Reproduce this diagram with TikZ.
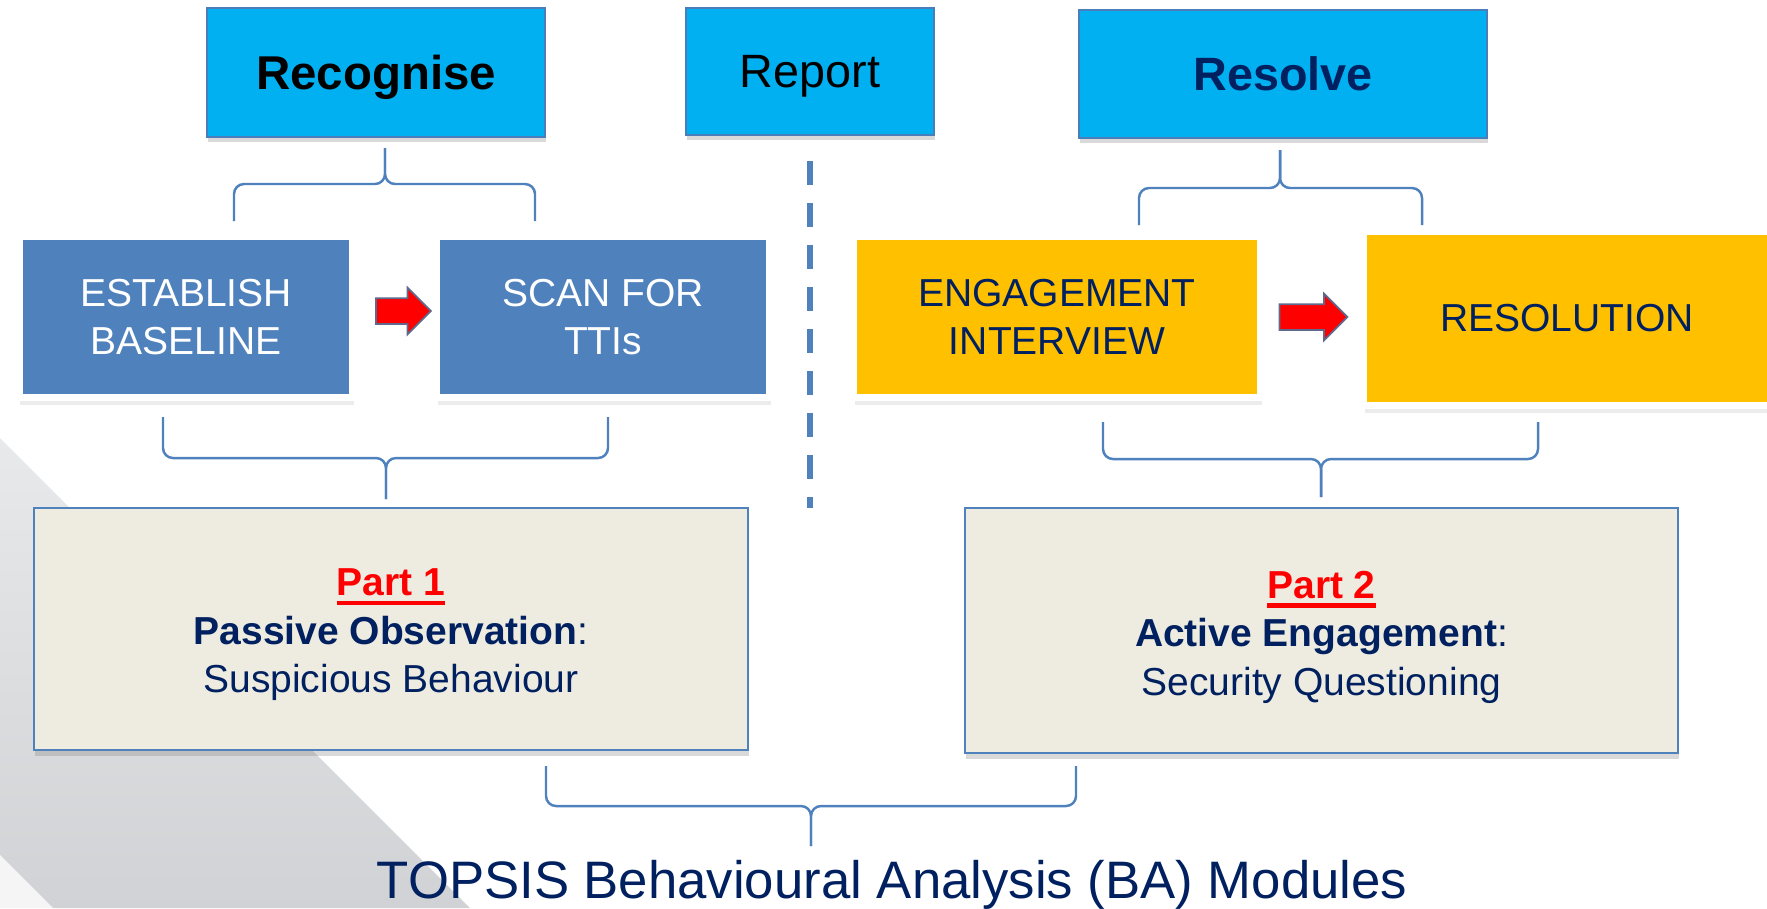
\documentclass[tikz,border=0pt]{standalone}
\usepackage{fontspec}
\setmainfont{Liberation Sans}
\usepackage{tikz}
\usetikzlibrary{shapes.arrows, shadows}

\definecolor{topcyan}{HTML}{00B0F0}
\definecolor{stepblue}{HTML}{4F81BD}
\definecolor{edgeblue}{HTML}{4A7EBB}
\definecolor{stepgold}{HTML}{FFC000}
\definecolor{navy}{HTML}{002060}
\definecolor{partbeige}{HTML}{EEECE1}
\definecolor{bandlight}{HTML}{E8E9EA}
\definecolor{banddark}{HTML}{D1D2D5}

\newcommand{\redul}[1]{\setbox0\hbox{#1}\rlap{\rule[-0.095cm]{\wd0}{0.045cm}}\box0}

\begin{document}
\begin{tikzpicture}
    % Styles
    \tikzstyle{phase} = [rectangle, draw=edgeblue, line width=0.6pt, fill=topcyan, inner sep=0pt, text depth=0pt, drop shadow={shadow xshift=0.01cm, shadow yshift=-0.045cm, opacity=0.3}]
    \tikzstyle{task} = [rectangle, draw=white, line width=0.07cm, inner sep=0pt, align=center, font=\fontsize{11.1}{13.8}\selectfont, drop shadow={shadow xshift=0.01cm, shadow yshift=-0.075cm, opacity=0.15}]
    \tikzstyle{part} = [rectangle, draw=stepblue, line width=0.6pt, fill=partbeige, inner sep=0pt, drop shadow={shadow xshift=0.01cm, shadow yshift=-0.06cm, opacity=0.3}]
    \tikzstyle{parttext} = [align=center, text=navy, font=\fontsize{11.1}{13.8}\selectfont]
    \tikzstyle{blockarrow} = [single arrow, fill=red, draw={rgb,255:red,95;green,105;blue,140}, line width=0.5pt, inner sep=0.12cm, single arrow head extend=0.105cm]
    \tikzstyle{curly} = [draw=stepblue, line width=0.7pt, rounded corners=0.1cm]
    \tikzstyle{dashline} = [stepblue, line width=0.06cm, dash pattern=on 0.24cm off 0.18cm]

    \useasboundingbox (0,0) rectangle (17.67,-9.08);

    % Background band
    \shade[top color=bandlight, bottom color=banddark] (0,-4.38) -- (4.70,-9.08) -- (0.53,-9.08) -- (0,-8.55) -- cycle;
    \fill[gray!8] (0,-8.55) -- (0.53,-9.08) -- (0,-9.08) -- cycle;

    % Phases
    \node[phase, minimum width=3.38cm, minimum height=1.29cm, font=\fontsize{13.5}{16}\selectfont\bfseries] (recog) at (3.76,-0.725) {Recognise};
    \node[phase, minimum width=2.48cm, minimum height=1.27cm, font=\fontsize{13.3}{16}\selectfont] (report) at (8.10,-0.715) {Report};
    \node[phase, minimum width=4.08cm, minimum height=1.28cm, text=navy, font=\fontsize{13.3}{16}\selectfont\bfseries] (resolve) at (12.83,-0.74) {Resolve};

    % Steps
    \node[task, fill=stepblue, text=white, minimum width=3.33cm, minimum height=1.61cm] (base) at (1.86,-3.17) {ESTABLISH\\BASELINE};
    \node[task, fill=stepblue, text=white, minimum width=3.33cm, minimum height=1.61cm] (scan) at (6.03,-3.17) {SCAN FOR\\TTIs};
    \node[task, fill=stepgold, text=navy, minimum width=4.07cm, minimum height=1.61cm] (engage) at (10.57,-3.17) {ENGAGEMENT\\INTERVIEW};
    \node[task, fill=stepgold, text=navy, minimum width=4.07cm, minimum height=1.74cm] (resol) at (15.67,-3.185) {RESOLUTION};

    % Block arrows
    \node[blockarrow, minimum height=0.55cm] (arr1) at (3.97,-3.11) {};
    \node[blockarrow, minimum height=0.68cm] (arr2) at (13.07,-3.17) {};

    % Divider
    \draw[dashline] ([yshift=-0.25cm]report.south) -- ++(0,-3.47);

    % Braces
    \draw[curly] (2.34,-2.21) |- (3.85,-1.84) -- (3.85,-1.48);
    \draw[curly] (5.35,-2.21) |- (3.85,-1.84) -- (3.85,-1.48);
    \draw[curly] (11.39,-2.25) |- (12.80,-1.88) -- (12.80,-1.50);
    \draw[curly] (14.22,-2.25) |- (12.80,-1.88) -- (12.80,-1.50);
    \draw[curly] (1.63,-4.17) |- (3.86,-4.58) -- (3.86,-4.99);
    \draw[curly] (6.08,-4.17) |- (3.86,-4.58) -- (3.86,-4.99);
    \draw[curly] (11.03,-4.22) |- (13.21,-4.59) -- (13.21,-4.97);
    \draw[curly] (15.38,-4.22) |- (13.21,-4.59) -- (13.21,-4.97);
    \draw[curly] (5.46,-7.66) |- (8.11,-8.06) -- (8.11,-8.46);
    \draw[curly] (10.76,-7.66) |- (8.11,-8.06) -- (8.11,-8.46);

    % Parts
    \node[part, minimum width=7.14cm, minimum height=2.42cm] (part1) at (3.91,-6.29) {};
    \node[parttext] (part1txt) at ([yshift=-0.06cm]part1.center) {\textcolor{red}{\redul{\textbf{Part 1}}}\\\textbf{Passive Observation}:\\Suspicious Behaviour};
    \node[part, minimum width=7.13cm, minimum height=2.45cm] (part2) at (13.215,-6.305) {};
    \node[parttext] (part2txt) at ([yshift=-0.065cm]part2.center) {\textcolor{red}{\redul{\textbf{Part 2}}}\\\textbf{Active Engagement}:\\Security Questioning};

    % Title
    \node[anchor=base, text=navy, font=\fontsize{15}{18}\selectfont] (title) at (8.92,-8.98) {TOPSIS Behavioural Analysis (BA) Modules};
\end{tikzpicture}
\end{document}
